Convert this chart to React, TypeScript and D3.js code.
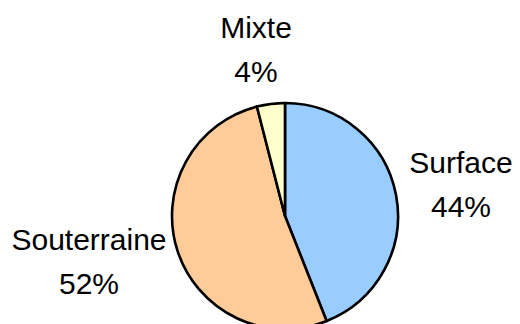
import React from "react";
import * as d3 from "d3";

const categories = ["Surface", "Souterraine", "Mixte"];
const shares = [44, 52, 4];
const colors = ["#99CCFF", "#FFCC99", "#FFFFCC"];

// label anchors (center x, first baseline y)
const labelAnchors: [number, number][] = [
  [461, 173],
  [89, 250],
  [256, 38],
];

const W = 520;
const H = 324;
const cx = 285;
const cy = 216;
const R = 113;

export default function App() {
  const pie = d3
    .pie<number>()
    .sort(null)
    .value((d) => d)
    .startAngle(0)
    .endAngle(2 * Math.PI);
  const arcs = pie(shares);
  const arc = d3.arc<d3.PieArcDatum<number>>().innerRadius(0).outerRadius(R);

  return (
    <div style={{ position: "fixed", left: 0, top: 0 }}>
      <svg width={W} height={H} style={{ display: "block", background: "#fff" }}>
        <g transform={`translate(${cx},${cy})`}>
          {arcs.map((a, i) => (
            <path
              key={categories[i]}
              d={arc(a) ?? ""}
              fill={colors[i]}
              stroke="#000"
              strokeWidth={2.6}
              strokeLinejoin="round"
            />
          ))}
        </g>
        {categories.map((c, i) => (
          <text
            key={c}
            x={labelAnchors[i][0]}
            y={labelAnchors[i][1]}
            textAnchor="middle"
            fontFamily="'Liberation Sans', Arial, sans-serif"
            fontSize={30}
            fill="#000"
          >
            <tspan x={labelAnchors[i][0]}>{c}</tspan>
            <tspan x={labelAnchors[i][0]} dy={44}>
              {`${shares[i]}%`}
            </tspan>
          </text>
        ))}
      </svg>
    </div>
  );
}
